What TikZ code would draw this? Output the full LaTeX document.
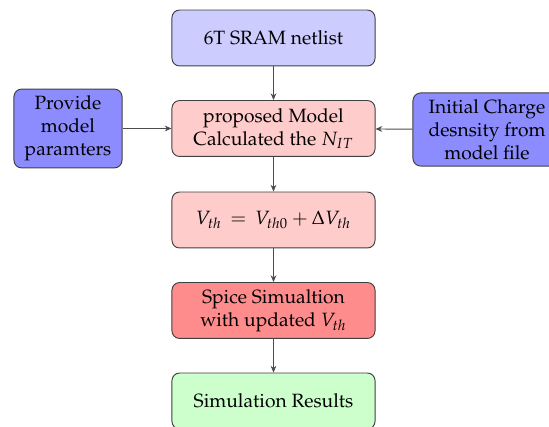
\documentclass[tikz,border=0pt]{standalone}
\usepackage[T1]{fontenc}
\usepackage{mathpazo}
\usetikzlibrary{arrows.meta}
\begin{document}
\begin{tikzpicture}[x=0.52pt,y=-0.52pt,
  box/.style={draw=black!75, rounded corners=4pt, align=center, inner sep=2pt, line width=0.5pt},
  mainbox/.style={box, minimum width=105.6pt, minimum height=29.1pt},
  sidebox/.style={box, fill=blue!45},
  conn/.style={draw=black!70, -{Stealth[length=3.5pt,width=3pt]}, line width=0.5pt}]
\useasboundingbox (0,0) rectangle (549,427);
\node[mainbox, fill=blue!20] (sram) at (273.5,38) {6T SRAM netlist};
\node[mainbox, fill=red!20] (model) at (273.5,128.5) {proposed Model\\Calculated the $N_{IT}$};
\node[sidebox, minimum width=56.2pt, minimum height=41pt] (param) at (68,128.5) {Provide\\model\\paramters};
\node[sidebox, minimum width=77pt, minimum height=38pt] (charge) at (487,129.5) {Initial Charge\\desnsity from\\model file};
\node[mainbox, fill=red!20] (vth) at (273.5,220) {$V_{th}\,=\,V_{th0}+\Delta V_{th}$};
\node[mainbox, fill=red!45] (spice) at (273.5,310.5) {Spice Simualtion\\with updated $V_{th}$};
\node[mainbox, fill=green!20] (res) at (273.5,401) {Simulation Results};
\draw[conn] (sram) -- (model);
\draw[conn] (param) -- (model);
\draw[conn] (charge) -- (model);
\draw[conn] (model) -- (vth);
\draw[conn] (vth) -- (spice);
\draw[conn] (spice) -- (res);
\end{tikzpicture}
\end{document}
